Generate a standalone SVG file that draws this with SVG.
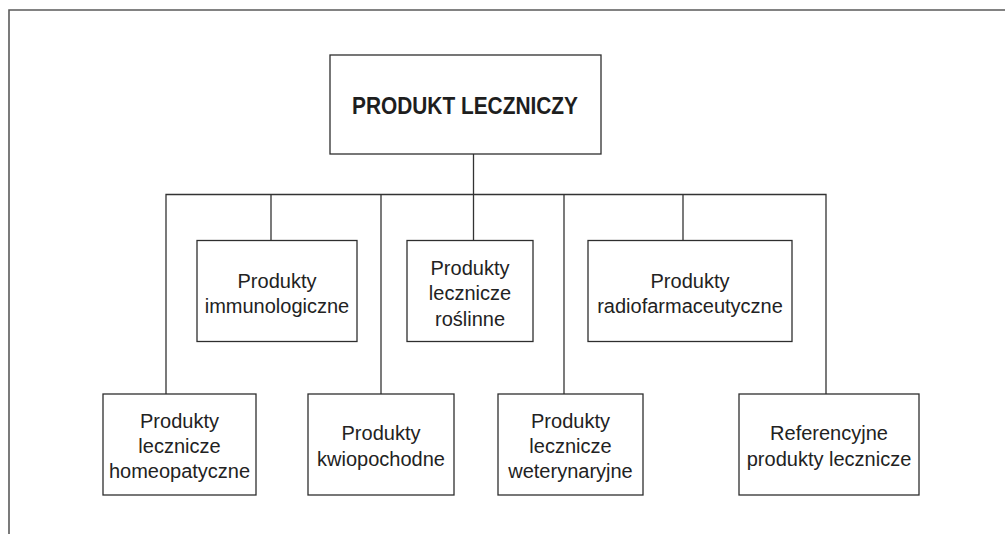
<svg xmlns="http://www.w3.org/2000/svg" width="1005" height="534" viewBox="0 0 1005 534">
  <style>
    .frame { fill: none; stroke: #5a5a5a; stroke-width: 1.6; }
    .box { fill: #ffffff; stroke: #2e2e2e; stroke-width: 1.3; }
    .wire { fill: none; stroke: #333333; stroke-width: 1.3; }
    .label { font-family: "Liberation Sans", Arial, sans-serif; font-size: 20px; fill: #222222; text-anchor: middle; }
    .title { font-family: "Liberation Sans", Arial, sans-serif; font-size: 23px; font-weight: bold; fill: #1e1e1e; text-anchor: middle; }
  </style>
  <rect width="1005" height="534" fill="#ffffff"/>

  <!-- page frame: top and left rules -->
  <path class="frame" d="M9,534 V10 H1005"/>

  <!-- connectors -->
  <g id="connectors">
    <path class="wire" d="M473.5,154 V240"/>
    <path class="wire" d="M166,394 V194.5 H826 V394"/>
    <path class="wire" d="M271,194.5 V240"/>
    <path class="wire" d="M381,194.5 V394"/>
    <path class="wire" d="M564,194.5 V394"/>
    <path class="wire" d="M683,194.5 V240"/>
  </g>

  <!-- root -->
  <g id="produkt-leczniczy">
    <rect class="box" x="330" y="55" width="271" height="99"/>
    <text class="title" x="465" y="114" textLength="226" lengthAdjust="spacingAndGlyphs">PRODUKT LECZNICZY</text>
  </g>

  <!-- upper row -->
  <g id="immunologiczne">
    <rect class="box" x="197" y="240.5" width="160" height="101"/>
    <text class="label" x="277" y="287.7">Produkty</text>
    <text class="label" x="277" y="312.7">immunologiczne</text>
  </g>
  <g id="roslinne">
    <rect class="box" x="407" y="240.5" width="126" height="101"/>
    <text class="label" x="470" y="275">Produkty</text>
    <text class="label" x="470" y="300">lecznicze</text>
    <text class="label" x="470" y="325.5">roślinne</text>
  </g>
  <g id="radiofarmaceutyczne">
    <rect class="box" x="588" y="240.5" width="204" height="101"/>
    <text class="label" x="690" y="287.7">Produkty</text>
    <text class="label" x="690" y="312.7">radiofarmaceutyczne</text>
  </g>

  <!-- lower row -->
  <g id="homeopatyczne">
    <rect class="box" x="103" y="394" width="153" height="101"/>
    <text class="label" x="179.5" y="427.7">Produkty</text>
    <text class="label" x="179.5" y="452.7">lecznicze</text>
    <text class="label" x="179.5" y="477.5">homeopatyczne</text>
  </g>
  <g id="kwiopochodne">
    <rect class="box" x="308" y="394" width="146" height="101"/>
    <text class="label" x="381" y="440">Produkty</text>
    <text class="label" x="381" y="466">kwiopochodne</text>
  </g>
  <g id="weterynaryjne">
    <rect class="box" x="498" y="394" width="145" height="101"/>
    <text class="label" x="570.5" y="427.7">Produkty</text>
    <text class="label" x="570.5" y="452.7">lecznicze</text>
    <text class="label" x="570.5" y="477.5">weterynaryjne</text>
  </g>
  <g id="referencyjne">
    <rect class="box" x="739" y="394" width="180" height="101"/>
    <text class="label" x="829" y="440">Referencyjne</text>
    <text class="label" x="829" y="466">produkty lecznicze</text>
  </g>
</svg>
